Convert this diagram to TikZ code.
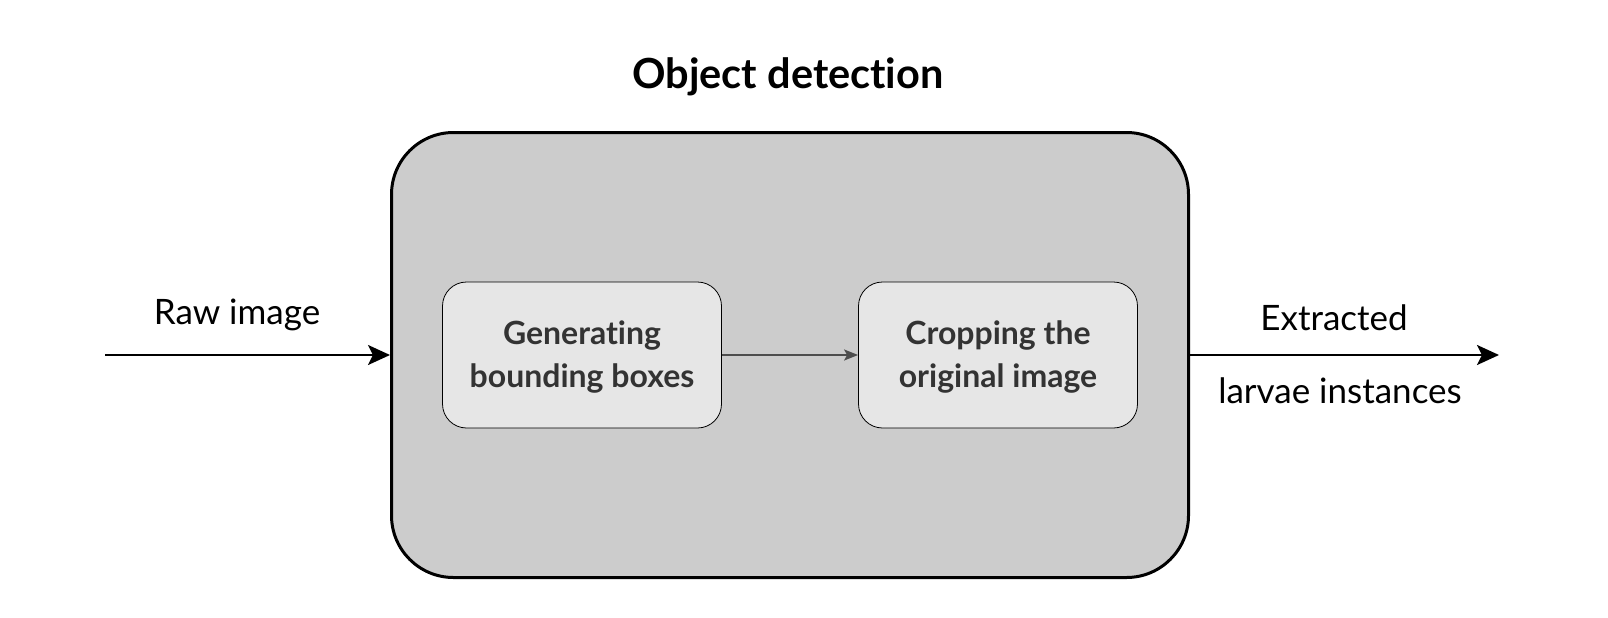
\documentclass[tikz,border=0pt]{standalone}
\usepackage{fontspec}
\setmainfont{Lato}[Ligatures=NoCommon]
\usetikzlibrary{arrows.meta,positioning}
\definecolor{stagegray}{HTML}{CCCCCC}
\definecolor{stepgray}{HTML}{E6E6E6}
\definecolor{steptext}{HTML}{333333}
\definecolor{linkgray}{HTML}{4D4D4D}

\begin{document}
\begin{tikzpicture}[x=1pt,y=-1pt,
   stage/.style={draw=black,line width=3pt,fill=stagegray,rounded corners=62pt,
      minimum width=797pt,minimum height=445pt},
   stepbox/.style={draw=black,line width=0.8pt,fill=stepgray,rounded corners=24pt,
      minimum width=279pt,minimum height=146pt,align=center,text=steptext,
      font=\fontsize{32}{43}\selectfont\bfseries,text depth=1pt},
   flow/.style={line width=2.4pt,-{Stealth[length=22pt,width=20pt,inset=5pt]}},
   label/.style={font=\fontsize{35}{40}\selectfont}]
\useasboundingbox (0,0) rectangle (1608,618);
% outer stage
\node[stage] (detect) at (790,355) {};
\node[font=\fontsize{41.5}{48}\selectfont\bfseries] (title) at (788,77) {Object detection};
% inner steps
\node[stepbox] (boxes) at (582,355) {Generating\\bounding boxes};
\node[stepbox] (crop) at (998,355) {Cropping the\\original image};
\draw[line width=1.8pt,draw=linkgray,-{Stealth[length=14pt,width=11pt,inset=3pt]},color=linkgray]
   (boxes) -- (crop);
% input and output
\coordinate (in) at (105,355);
\coordinate (out) at (1499,355);
\draw[flow] (in) -- (detect.west);
\draw[flow] (detect.east) -- (out);
\node[label] (raw) at (237,315) {Raw image};
\node[label] (extr) at (1334,318) {Extracted};
\node[label] (larvae) at (1340,391) {larvae instances};
\end{tikzpicture}
\end{document}
